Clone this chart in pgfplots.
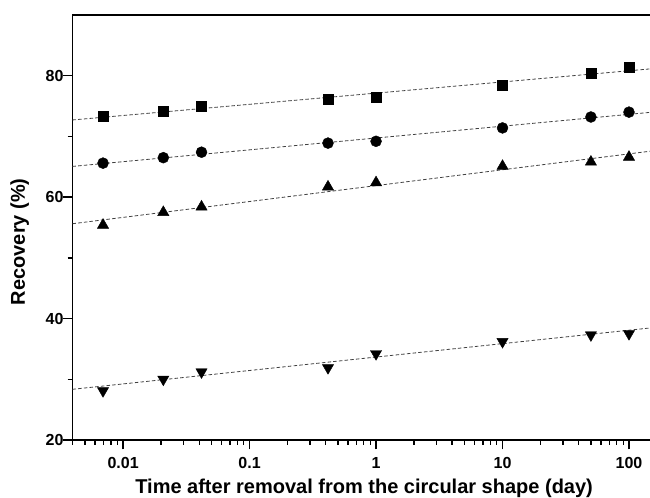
\documentclass[border=0pt]{standalone}
\usepackage{fontspec}
\setmainfont{Liberation Sans}
\usepackage{pgfplots}
\pgfplotsset{compat=1.18}
\begin{document}
\begin{tikzpicture}
\begin{axis}[
  name=ax,
  scale only axis,
  width=577.5pt, height=425pt,
  xmode=log,
  xmin=0.003981, xmax=146.6,
  ymin=20, ymax=90,
  axis x line*=box,
  axis y line*=left,
  axis line style={line width=1.6pt},
  xtick pos=bottom, ytick pos=left,
  tick align=outside,
  xtick={0.01,0.1,1,10,100},
  xticklabels={0.01,0.1,1,10,100},
  minor xtick={0.004,0.005,0.006,0.007,0.008,0.009,0.02,0.03,0.04,0.05,0.06,0.07,0.08,0.09,0.2,0.3,0.4,0.5,0.6,0.7,0.8,0.9,2,3,4,5,6,7,8,9,20,30,40,50,60,70,80,90},
  ytick={20,40,60,80},
  minor ytick={30,50,70},
  major tick length=9.5pt, minor tick length=5pt,
  tick style={line width=1.4pt, black},
  /pgf/number format/assume math mode=true,
  tick label style={font=\bfseries\fontsize{16}{16}\selectfont},
  xticklabel style={yshift=-4pt},
  yticklabel style={xshift=4pt},
  xlabel={Time after removal from the circular shape (day)},
  ylabel={Recovery (\%)},
  label style={font=\bfseries\fontsize{20}{20}\selectfont},
  xlabel style={at={(axis description cs:0.505,-0.127)}, anchor=base},
  ylabel style={at={(axis description cs:-0.0914,0.4666)}, anchor=center},
  clip=true,
]
% fitted lines (dashed)
\addplot[black!75, line width=0.8pt, dash pattern=on 3.5pt off 2.2pt] coordinates {(0.003981,72.71) (146.6,81.12)};
\addplot[black!75, line width=0.8pt, dash pattern=on 3.5pt off 2.2pt] coordinates {(0.003981,65.06) (146.6,73.96)};
\addplot[black!75, line width=0.8pt, dash pattern=on 3.5pt off 2.2pt] coordinates {(0.003981,55.62) (146.6,67.56)};
\addplot[black!75, line width=0.8pt, dash pattern=on 3.5pt off 2.2pt] coordinates {(0.003981,28.35) (146.6,38.45)};
% data
\addplot[only marks, mark=square*, mark size=5pt, black] coordinates {
(0.00694,73.3) (0.0208,74.2) (0.0417,74.9) (0.417,76.2) (1,76.5) (10,78.4) (50,80.4) (100,81.45)};
\addplot[only marks, mark=*, mark size=5.5pt, black] coordinates {
(0.00694,65.6) (0.0208,66.5) (0.0417,67.4) (0.417,68.9) (1,69.2) (10,71.4) (50,73.2) (100,74.0)};
\addplot[only marks, mark=triangle*, mark size=6.5pt, black] coordinates {
(0.00694,55.4) (0.0208,57.5) (0.0417,58.4) (0.417,61.7) (1,62.4) (10,65.1) (50,65.8) (100,66.6)};
\addplot[only marks, mark=triangle*, mark size=6.5pt, mark options={rotate=180}, black] coordinates {
(0.00694,28.1) (0.0208,30.0) (0.0417,31.2) (0.417,31.9) (1,34.2) (10,36.2) (50,37.3) (100,37.5)};
\end{axis}
\pgfresetboundingbox
\path[use as bounding box] ([xshift=-72.5pt,yshift=-58pt]ax.south west) rectangle ([yshift=15pt]ax.north east);
\end{tikzpicture}
\end{document}
